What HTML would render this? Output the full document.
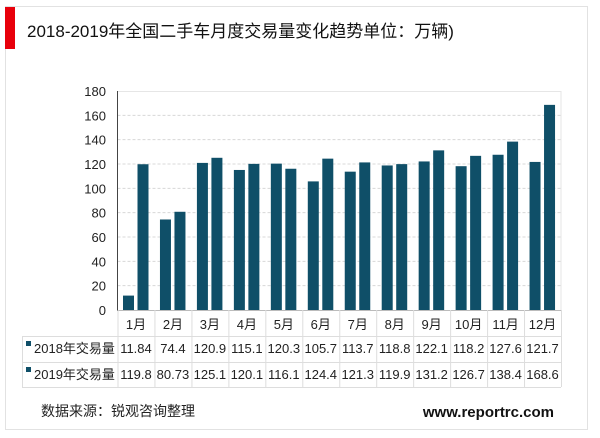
<!DOCTYPE html>
<html><head><meta charset="utf-8"><style>
body{margin:0;width:600px;height:433px;background:#fff;overflow:hidden;font-family:"Liberation Sans","Noto Sans CJK SC",sans-serif;}
</style></head><body>
<svg width="600" height="433" xmlns="http://www.w3.org/2000/svg" style="font-family:'Liberation Sans','Noto Sans CJK SC',sans-serif">
<rect x="5.5" y="6.5" width="582" height="423" fill="#fff" stroke="#e2e2e2"/>
<rect x="5" y="7" width="10" height="42" fill="#e8000b"/>
<text x="27" y="37" font-size="17" fill="#111">2018-2019年全国二手车月度交易量变化趋势单位：万辆)</text>
<rect x="117.5" y="91.5" width="443.5" height="219" fill="none" stroke="#e6e6e6"/>
<g id="grid"></g><g id="bars"></g><g id="ylab"></g>
<line x1="117.5" y1="91" x2="117.5" y2="311" stroke="#444"/>
<g id="table" font-size="13" fill="#222"></g>
<text x="41" y="416" font-size="14" fill="#222">数据来源：锐观咨询整理</text>
<text x="554" y="417" font-size="15" font-weight="bold" fill="#111" text-anchor="end">www.reportrc.com</text>
</svg>
<script>
const categories=["1月","2月","3月","4月","5月","6月","7月","8月","9月","10月","11月","12月"];
const series2018=[11.84,74.4,120.9,115.1,120.3,105.7,113.7,118.8,122.1,118.2,127.6,121.7];
const series2019=[119.8,80.73,125.1,120.1,116.1,124.4,121.3,119.9,131.2,126.7,138.4,168.6];
const labels2018=["11.84","74.4","120.9","115.1","120.3","105.7","113.7","118.8","122.1","118.2","127.6","121.7"];
const labels2019=["119.8","80.73","125.1","120.1","116.1","124.4","121.3","119.9","131.2","126.7","138.4","168.6"];
const yTicks=[0,20,40,60,80,100,120,140,160,180];
const NS="http://www.w3.org/2000/svg";
const x0=117.5,x1=561,yTop=91,yBot=310,yMax=180;
const cw=(x1-x0)/categories.length;
const y=v=>yBot-(v/yMax)*(yBot-yTop);
const xc=i=>x0+i*cw;
function mk(tag,attrs,parent){const e=document.createElementNS(NS,tag);for(const k in attrs)e.setAttribute(k,attrs[k]);parent.appendChild(e);return e;}
const grid=document.getElementById('grid'),bars=document.getElementById('bars'),ylab=document.getElementById('ylab'),tbl=document.getElementById('table');
yTicks.forEach(t=>{
  if(t>0&&t<yMax){const l=mk('line',{x1:x0,x2:x1,y1:y(t),y2:y(t),stroke:'#d8d8d8','stroke-dasharray':'3,2'},grid);
  
  }
  const tx=mk('text',{x:106,y:y(t)+5,'font-size':13,fill:'#222','text-anchor':'end'},ylab);tx.textContent=t;
  
  
});
const col='#0f4f68',bw=11;
categories.forEach((c,i)=>{
  const a=mk('rect',{x:xc(i)+5.5,y:y(series2018[i]),width:bw,height:yBot-y(series2018[i]),fill:col},bars);
  
  
  const b=mk('rect',{x:xc(i)+20,y:y(series2019[i]),width:bw,height:yBot-y(series2019[i]),fill:col},bars);
  
  
});
// table
const rows=[310,336,362,387];
mk('line',{x1:x0,x2:x1,y1:310.5,y2:310.5,stroke:'#bbb'},tbl);
[336,362,387].forEach(r=>mk('line',{x1:22,x2:x1,y1:r+.5,y2:r+.5,stroke:'#ddd'},tbl));
mk('line',{x1:22.5,x2:22.5,y1:336,y2:387,stroke:'#ddd'},tbl);
for(let i=0;i<=categories.length;i++)mk('line',{x1:xc(i)+.5,x2:xc(i)+.5,y1:310,y2:387,stroke:'#ddd'},tbl);
categories.forEach((c,i)=>{
  const t=mk('text',{x:xc(i)+cw/2,y:329,'text-anchor':'middle'},tbl);t.textContent=c;
  
  
  const a=mk('text',{x:xc(i)+cw/2,y:353,'text-anchor':'middle'},tbl);a.textContent=labels2018[i];
  
  
  const b=mk('text',{x:xc(i)+cw/2,y:379,'text-anchor':'middle'},tbl);b.textContent=labels2019[i];
  
  
});
[["2018年交易量",353,'legend-2018'],["2019年交易量",379,'legend-2019']].forEach(([s,yy,n])=>{
  const g=mk('g',{},tbl);
  
  
  mk('rect',{x:26,y:yy-12,width:5,height:5,fill:col},g);
  const t=mk('text',{x:34,y:yy},g);t.textContent=s;
});
</script>
</body></html>
